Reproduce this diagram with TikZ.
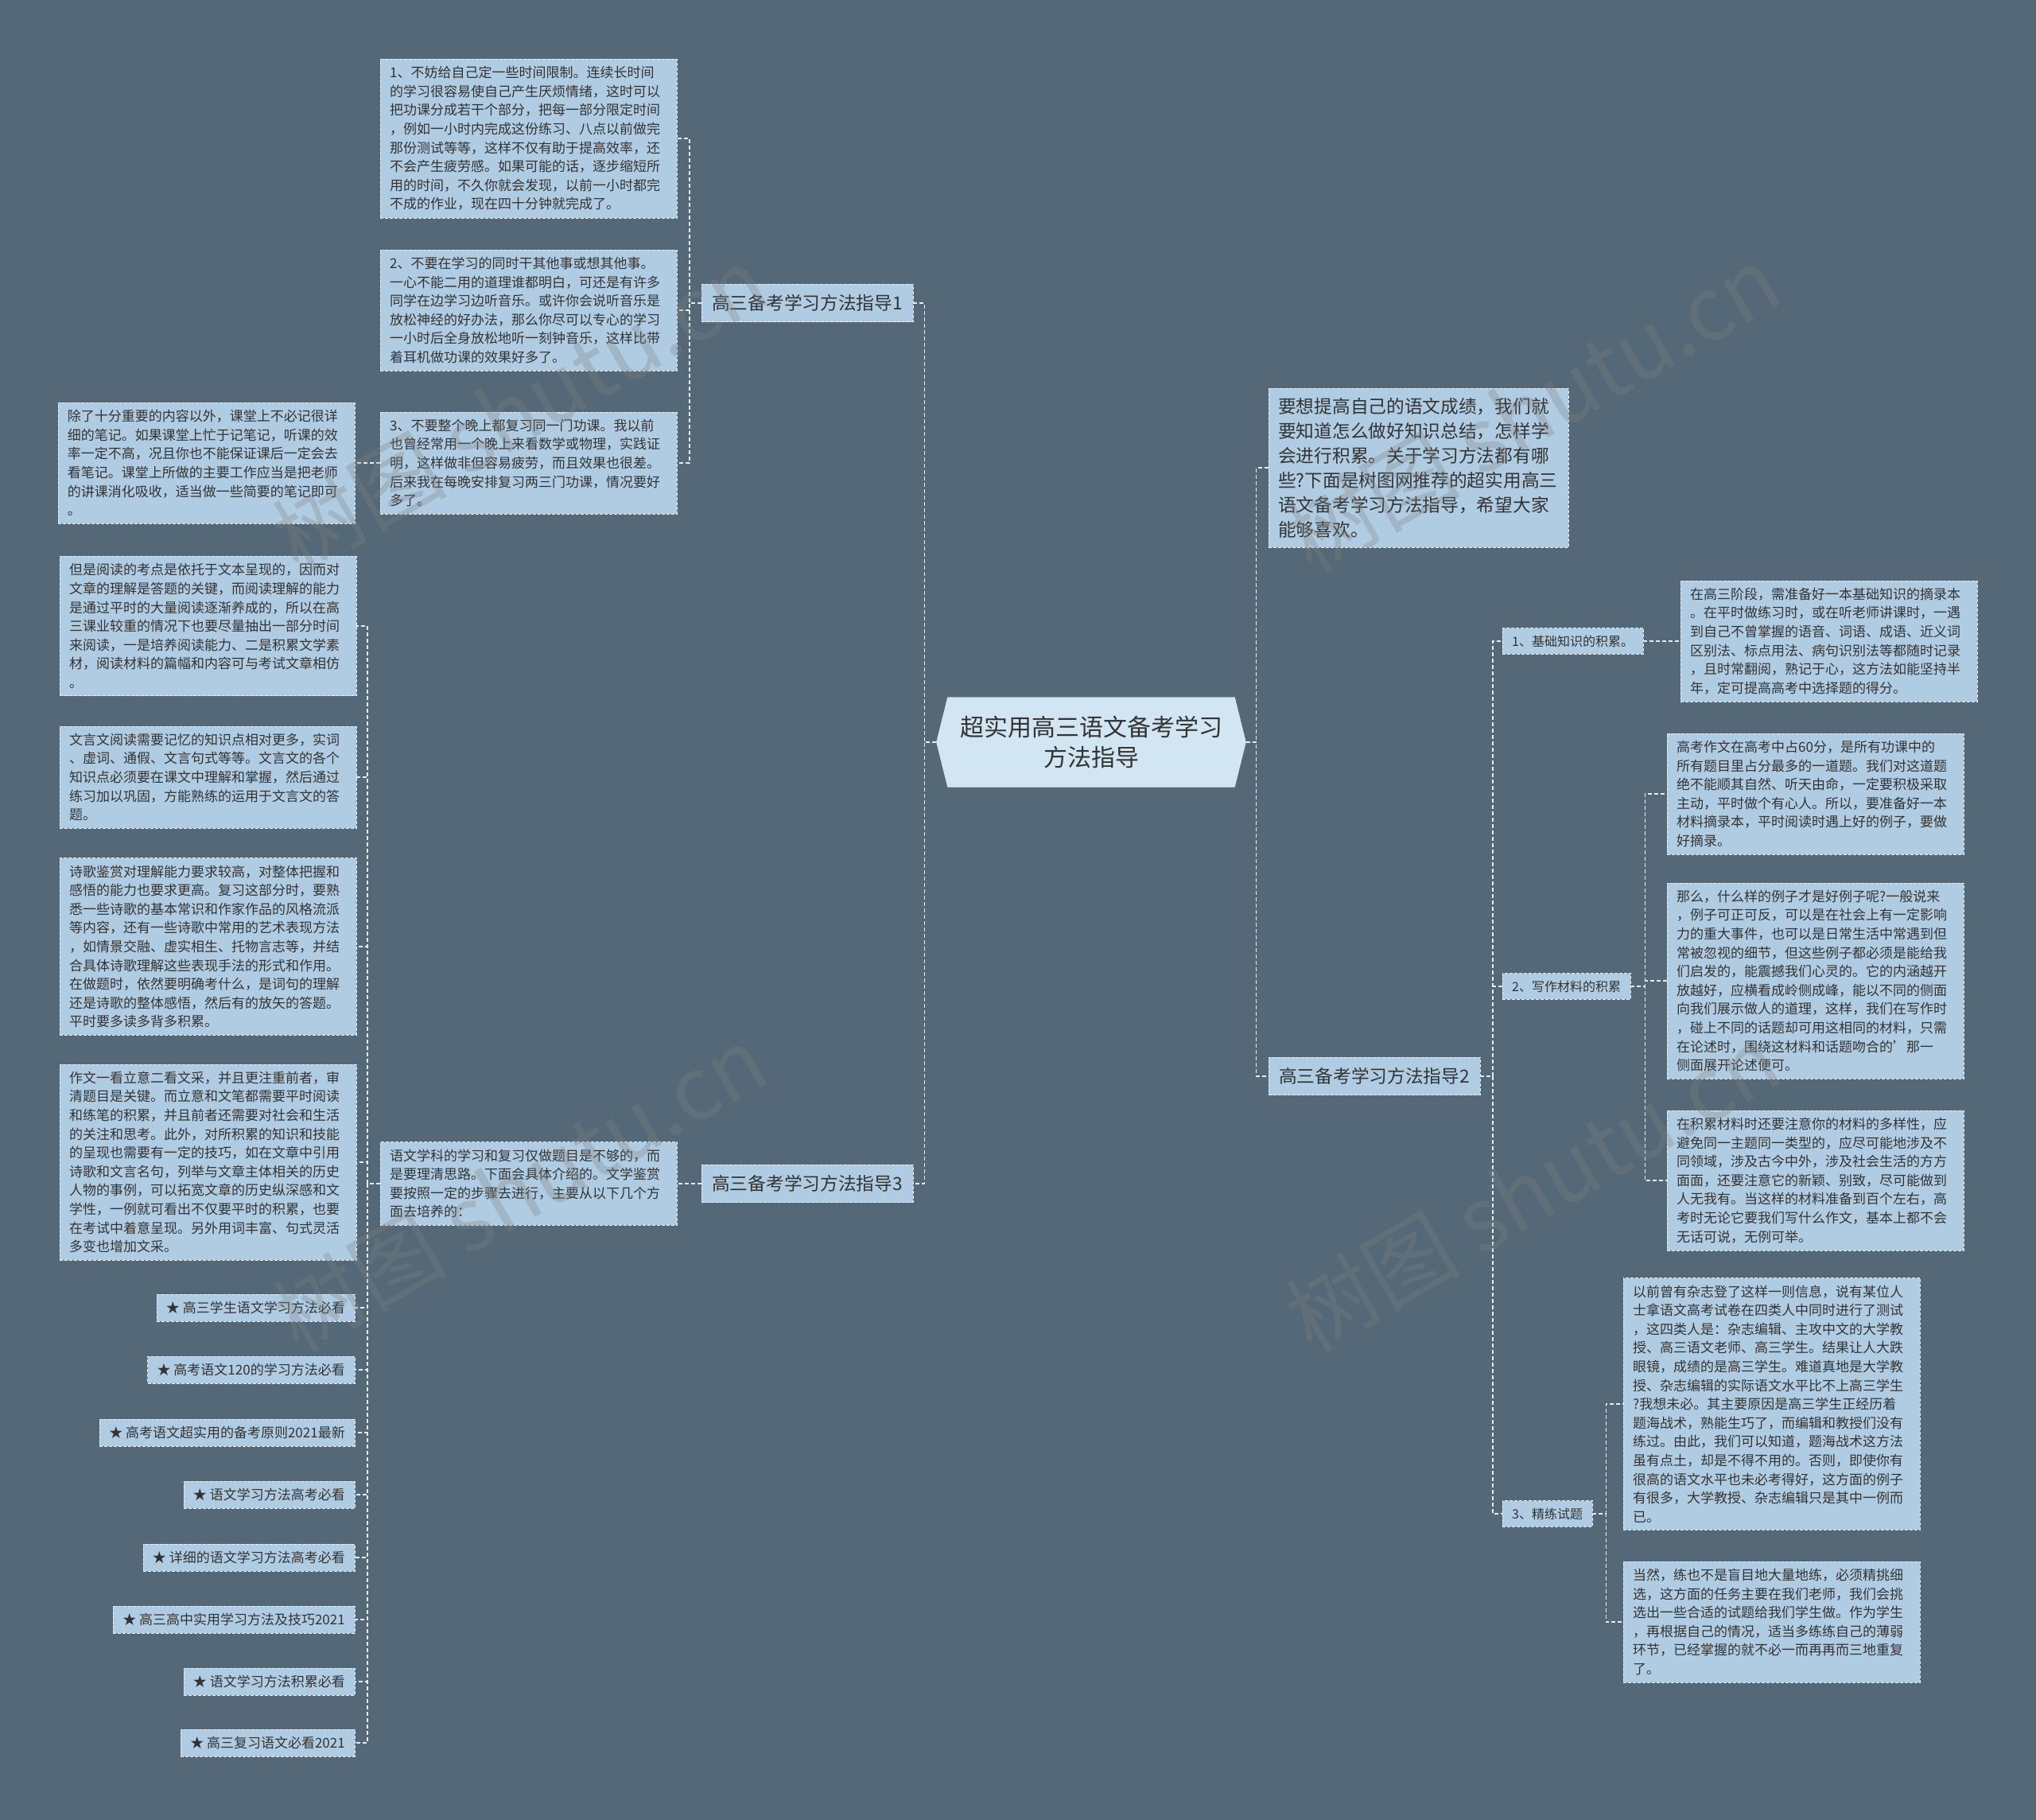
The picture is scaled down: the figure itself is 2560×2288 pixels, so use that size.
\documentclass[tikz,border=0pt]{standalone}
\usepackage{fontspec}
\setmainfont{Noto Sans CJK SC}
\usepackage{tikz}
\usetikzlibrary{backgrounds}
\usetikzlibrary{shapes.symbols}
\definecolor{bgblue}{HTML}{546877}
\definecolor{boxblue}{HTML}{B0CCE2}
\definecolor{rootblue}{HTML}{D1E5F2}
\definecolor{linegray}{HTML}{E4EDF3}
\definecolor{textgray}{HTML}{333333}

\begin{document}
\begin{tikzpicture}[x=1pt,y=-1pt,
    % 中心节点样式
    root style/.style={
        signal,                          % 两端尖角
        signal to=west and east,
        signal pointer angle=152,
        draw=linegray,
        fill=rootblue,
        text=textgray,
        minimum width=389pt,
        minimum height=113pt,
        align=center,
        font=\fontsize{30}{38}\selectfont
    },
    % 分支节点样式
    branch style/.style={
        draw=linegray,
        dash pattern=on 4pt off 2pt,     % 虚线边框
        fill=boxblue,
        text=textgray,
        inner xsep=13pt,
        inner ysep=13pt,
        font=\fontsize{22.7}{28}\selectfont
    },
    % 文字框样式
    text box style/.style={
        draw=linegray,
        dash pattern=on 4pt off 2pt,
        fill=boxblue,
        text=textgray,
        text width=349pt,
        align=left,
        inner xsep=12pt,
        inner ysep=9pt,
        font=\fontsize{17}{23.6}\selectfont
    },
    % 小标题与列表样式
    item style/.style={
        draw=linegray,
        dash pattern=on 4pt off 2pt,
        fill=boxblue,
        text=textgray,
        inner xsep=12pt,
        inner ysep=9pt,
        font=\fontsize{17}{20}\selectfont
    },
    % 连线样式
    link style/.style={
        draw=linegray,
        line width=1.5pt,
        dash pattern=on 5pt off 3pt
    },
    % 水印样式
    watermark style/.style={
        text=gray,
        opacity=0.3,
        rotate=30,
        font=\fontsize{110}{110}\selectfont
    }
]
\useasboundingbox (0,0) rectangle (2560,2288);

% 中心
\node[root style] (root) at (1372,933) {超实用高三语文备考学习\\方法指导};

% 左侧分支1
\node[branch style] (b1) at (1015,381) {高三备考学习方法指导1};
\node[text box style, anchor=west] (a1) at (478,174) {1、不妨给自己定一些时间限制。连续长时间\\的学习很容易使自己产生厌烦情绪，这时可以\\把功课分成若干个部分，把每一部分限定时间\\，例如一小时内完成这份练习、八点以前做完\\那份测试等等，这样不仅有助于提高效率，还\\不会产生疲劳感。如果可能的话，逐步缩短所\\用的时间，不久你就会发现，以前一小时都完\\不成的作业，现在四十分钟就完成了。};
\node[text box style, anchor=west] (a2) at (478,390) {2、不要在学习的同时干其他事或想其他事。\\一心不能二用的道理谁都明白，可还是有许多\\同学在边学习边听音乐。或许你会说听音乐是\\放松神经的好办法，那么你尽可以专心的学习\\一小时后全身放松地听一刻钟音乐，这样比带\\着耳机做功课的效果好多了。};
\node[text box style, anchor=west] (a3) at (478,582) {3、不要整个晚上都复习同一门功课。我以前\\也曾经常用一个晚上来看数学或物理，实践证\\明，这样做非但容易疲劳，而且效果也很差。\\后来我在每晚安排复习两三门功课，情况要好\\多了。};
\node[text box style, anchor=east] (a4) at (446,582) {除了十分重要的内容以外，课堂上不必记很详\\细的笔记。如果课堂上忙于记笔记，听课的效\\率一定不高，况且你也不能保证课后一定会去\\看笔记。课堂上所做的主要工作应当是把老师\\的讲课消化吸收，适当做一些简要的笔记即可\\。};

% 左侧分支3
\node[branch style] (b3) at (1015,1488) {高三备考学习方法指导3};
\node[text box style, anchor=west] (c0) at (478,1488) {语文学科的学习和复习仅做题目是不够的，而\\是要理清思路。下面会具体介绍的。文学鉴赏\\要按照一定的步骤去进行，主要从以下几个方\\面去培养的：};
\node[text box style, anchor=west] (c1) at (75,787) {但是阅读的考点是依托于文本呈现的，因而对\\文章的理解是答题的关键，而阅读理解的能力\\是通过平时的大量阅读逐渐养成的，所以在高\\三课业较重的情况下也要尽量抽出一部分时间\\来阅读，一是培养阅读能力、二是积累文学素\\材，阅读材料的篇幅和内容可与考试文章相仿\\。};
\node[text box style, anchor=west] (c2) at (75,977) {文言文阅读需要记忆的知识点相对更多，实词\\、虚词、通假、文言句式等等。文言文的各个\\知识点必须要在课文中理解和掌握，然后通过\\练习加以巩固，方能熟练的运用于文言文的答\\题。};
\node[text box style, anchor=west] (c3) at (75,1190) {诗歌鉴赏对理解能力要求较高，对整体把握和\\感悟的能力也要求更高。复习这部分时，要熟\\悉一些诗歌的基本常识和作家作品的风格流派\\等内容，还有一些诗歌中常用的艺术表现方法\\，如情景交融、虚实相生、托物言志等，并结\\合具体诗歌理解这些表现手法的形式和作用。\\在做题时，依然要明确考什么，是词句的理解\\还是诗歌的整体感悟，然后有的放矢的答题。\\平时要多读多背多积累。};
\node[text box style, anchor=west] (c4) at (75,1461) {作文一看立意二看文采，并且更注重前者，审\\清题目是关键。而立意和文笔都需要平时阅读\\和练笔的积累，并且前者还需要对社会和生活\\的关注和思考。此外，对所积累的知识和技能\\的呈现也需要有一定的技巧，如在文章中引用\\诗歌和文言名句，列举与文章主体相关的历史\\人物的事例，可以拓宽文章的历史纵深感和文\\学性，一例就可看出不仅要平时的积累，也要\\在考试中着意呈现。另外用词丰富、句式灵活\\多变也增加文采。};
\node[item style, anchor=east] (s1) at (446,1644) {★ 高三学生语文学习方法必看};
\node[item style, anchor=east] (s2) at (446,1722) {★ 高考语文120的学习方法必看};
\node[item style, anchor=east] (s3) at (446,1801) {★ 高考语文超实用的备考原则2021最新};
\node[item style, anchor=east] (s4) at (446,1879) {★ 语文学习方法高考必看};
\node[item style, anchor=east] (s5) at (446,1958) {★ 详细的语文学习方法高考必看};
\node[item style, anchor=east] (s6) at (446,2036) {★ 高三高中实用学习方法及技巧2021};
\node[item style, anchor=east] (s7) at (446,2114) {★ 语文学习方法积累必看};
\node[item style, anchor=east] (s8) at (446,2191) {★ 高三复习语文必看2021};

% 右侧
\node[text box style, anchor=west, text width=353pt, inner ysep=12pt,
      font=\fontsize{22.7}{31}\selectfont] (intro) at (1595,588) {要想提高自己的语文成绩，我们就\\要知道怎么做好知识总结，怎样学\\会进行积累。关于学习方法都有哪\\些?下面是树图网推荐的超实用高三\\语文备考学习方法指导，希望大家\\能够喜欢。};
\node[branch style, anchor=west] (b2) at (1595,1353) {高三备考学习方法指导2};
\node[item style, anchor=west, font=\fontsize{16}{20}\selectfont] (k1) at (1889,806) {1、基础知识的积累。};
\node[item style, anchor=west, font=\fontsize{16}{20}\selectfont] (k2) at (1889,1240) {2、写作材料的积累};
\node[item style, anchor=west, font=\fontsize{16}{20}\selectfont] (k3) at (1889,1903) {3、精练试题};
\node[text box style, anchor=west] (d1) at (2113,806) {在高三阶段，需准备好一本基础知识的摘录本\\。在平时做练习时，或在听老师讲课时，一遇\\到自己不曾掌握的语音、词语、成语、近义词\\区别法、标点用法、病句识别法等都随时记录\\，且时常翻阅，熟记于心，这方法如能坚持半\\年，定可提高高考中选择题的得分。};
\node[text box style, anchor=west] (d2a) at (2096,998) {高考作文在高考中占60分，是所有功课中的\\所有题目里占分最多的一道题。我们对这道题\\绝不能顺其自然、听天由命，一定要积极采取\\主动，平时做个有心人。所以，要准备好一本\\材料摘录本，平时阅读时遇上好的例子，要做\\好摘录。};
\node[text box style, anchor=west] (d2b) at (2096,1233) {那么，什么样的例子才是好例子呢?一般说来\\，例子可正可反，可以是在社会上有一定影响\\力的重大事件，也可以是日常生活中常遇到但\\常被忽视的细节，但这些例子都必须是能给我\\们启发的，能震撼我们心灵的。它的内涵越开\\放越好，应横看成岭侧成峰，能以不同的侧面\\向我们展示做人的道理，这样，我们在写作时\\，碰上不同的话题却可用这相同的材料，只需\\在论述时，围绕这材料和话题吻合的'那一\\侧面展开论述便可。};
\node[text box style, anchor=west] (d2c) at (2096,1484) {在积累材料时还要注意你的材料的多样性，应\\避免同一主题同一类型的，应尽可能地涉及不\\同领域，涉及古今中外，涉及社会生活的方方\\面面，还要注意它的新颖、别致，尽可能做到\\人无我有。当这样的材料准备到百个左右，高\\考时无论它要我们写什么作文，基本上都不会\\无话可说，无例可举。};
\node[text box style, anchor=west] (d3a) at (2041,1765) {以前曾有杂志登了这样一则信息，说有某位人\\士拿语文高考试卷在四类人中同时进行了测试\\，这四类人是：杂志编辑、主攻中文的大学教\\授、高三语文老师、高三学生。结果让人大跌\\眼镜，成绩的是高三学生。难道真地是大学教\\授、杂志编辑的实际语文水平比不上高三学生\\?我想未必。其主要原因是高三学生正经历着\\题海战术，熟能生巧了，而编辑和教授们没有\\练过。由此，我们可以知道，题海战术这方法\\虽有点土，却是不得不用的。否则，即使你有\\很高的语文水平也未必考得好，这方面的例子\\有很多，大学教授、杂志编辑只是其中一例而\\已。};
\node[text box style, anchor=west] (d3b) at (2041,2039) {当然，练也不是盲目地大量地练，必须精挑细\\选，这方面的任务主要在我们老师，我们会挑\\选出一些合适的试题给我们学生做。作为学生\\，再根据自己的情况，适当多练练自己的薄弱\\环节，已经掌握的就不必一而再再而三地重复\\了。};

% 连线
\begin{scope}[on background layer]
\fill[bgblue] (0,0) rectangle (2560,2288);
\draw[link style] (root.west) -- ++(-15,0) |- (b1.east);
\draw[link style] (root.west) -- ++(-15,0) |- (b3.east);
\draw[link style] (root.east) -- ++(13,0) |- (intro.west);
\draw[link style] (root.east) -- ++(13,0) |- (b2.west);
\foreach \n in {a1,a2,a3}
    \draw[link style] (b1.west) -- ++(-15,0) |- (\n.east);
\draw[link style] (a3.west) -- (a4.east);
\draw[link style] (b3.west) -- (c0.east);
\foreach \n in {c1,c2,c3,c4,s1,s2,s3,s4,s5,s6,s7,s8}
    \draw[link style] (c0.west) -- ++(-16,0) |- (\n.east);
\foreach \n in {k1,k2,k3}
    \draw[link style] (b2.east) -- ++(16,0) |- (\n.west);
\draw[link style] (k1.east) -- (d1.west);
\foreach \n in {d2a,d2b,d2c}
    \draw[link style] (k2.east) -- ++(18,0) |- (\n.west);
\foreach \n in {d3a,d3b}
    \draw[link style] (k3.east) -- ++(17,0) |- (\n.west);
\end{scope}

% 水印
\node[watermark style] (wm1) at (653,514) {树图 shutu.cn};
\node[watermark style] (wm2) at (653,1494) {树图 shutu.cn};
\node[watermark style] (wm3) at (1927,514) {树图 shutu.cn};
\node[watermark style] (wm4) at (1927,1494) {树图 shutu.cn};
\end{tikzpicture}
\end{document}
